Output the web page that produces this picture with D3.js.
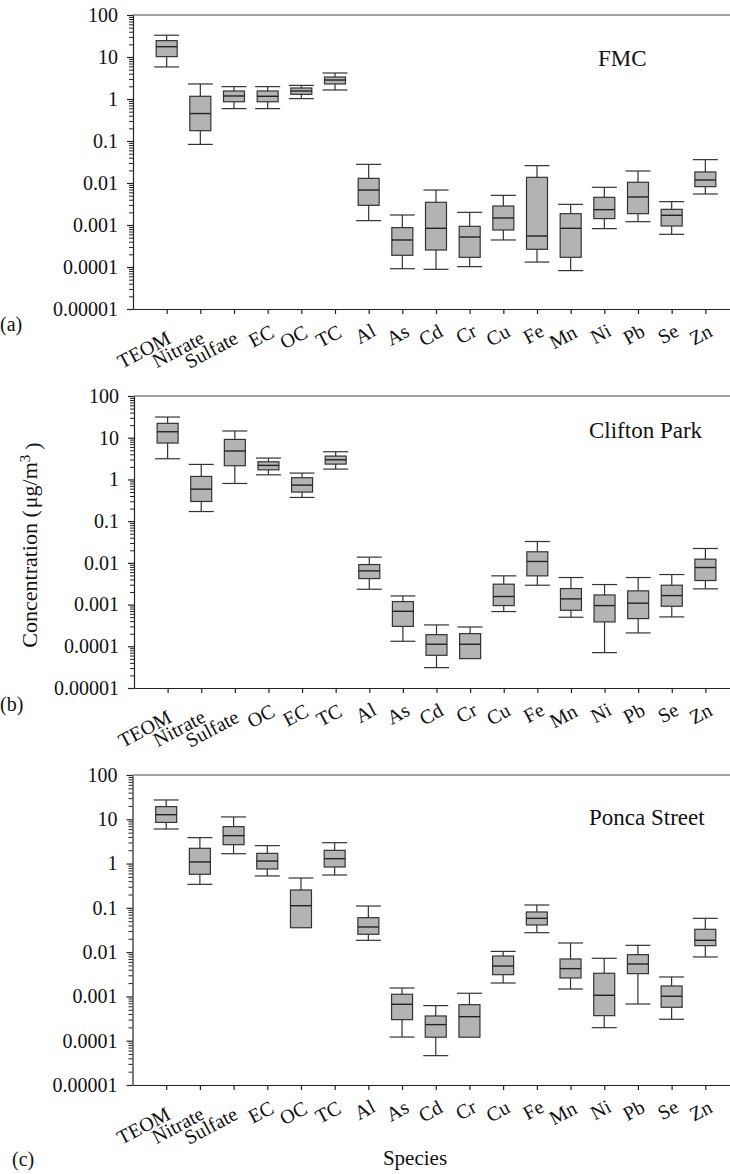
<!DOCTYPE html>
<html>
<head>
<meta charset="utf-8">
<script src="https://cdn.jsdelivr.net/npm/d3@7"></script>
<style>
    html, body { margin: 0; padding: 0; background: #fff; }
    svg { display: block; }
    text { font-family: "Liberation Serif", "Times New Roman", serif; fill: #111; }
</style>
</head>
<body>
<svg id="chart" width="730" height="1174"></svg>
<script>
"use strict";

// species order on the x axis (Clifton Park swaps OC and EC)
const speciesFMC = ["TEOM", "Nitrate", "Sulfate", "EC", "OC", "TC", "Al", "As", "Cd", "Cr", "Cu", "Fe", "Mn", "Ni", "Pb", "Se", "Zn"];
const speciesClifton = ["TEOM", "Nitrate", "Sulfate", "OC", "EC", "TC", "Al", "As", "Cd", "Cr", "Cu", "Fe", "Mn", "Ni", "Pb", "Se", "Zn"];
const speciesPonca = speciesFMC;

// [lower whisker, q1, median, q3, upper whisker] in ug/m3, same order as species
const statsFMC = [
    [5.8, 10.2, 17.6, 24.5, 33],
    [0.083, 0.176, 0.45, 1.16, 2.28],
    [0.59, 0.86, 1.18, 1.55, 1.97],
    [0.59, 0.86, 1.16, 1.55, 1.97],
    [1.02, 1.29, 1.55, 1.83, 2.11],
    [1.64, 2.28, 2.83, 3.34, 4.16],
    [0.00127, 0.00294, 0.0068, 0.0129, 0.0278],
    [0.000091, 0.00019, 0.00044, 0.000865, 0.00173],
    [0.000088, 0.000254, 0.000834, 0.00347, 0.0068],
    [0.000102, 0.00017, 0.000518, 0.00093, 0.002],
    [0.00044, 0.00076, 0.00147, 0.00283, 0.00508],
    [0.000131, 0.000264, 0.000547, 0.01365, 0.0259],
    [0.000082, 0.00017, 0.000834, 0.00186, 0.0031],
    [0.00082, 0.00142, 0.00232, 0.00456, 0.00789],
    [0.0012, 0.00186, 0.00465, 0.0104, 0.0193],
    [0.0006, 0.000946, 0.0017, 0.00236, 0.0036],
    [0.00547, 0.00818, 0.0118, 0.0183, 0.036]
];
const statsClifton = [
    [3.13, 7.45, 13.9, 22.1, 31.3],
    [0.17, 0.296, 0.586, 1.18, 2.29],
    [0.8, 2.13, 4.8, 9.1, 14.5],
    [1.29, 1.7, 2.17, 2.65, 3.25],
    [0.37, 0.497, 0.73, 1.1, 1.42],
    [1.77, 2.33, 2.96, 3.63, 4.61],
    [0.00233, 0.0042, 0.00643, 0.0091, 0.0137],
    [0.000132, 0.0003, 0.00069, 0.00118, 0.00161],
    [0.0000308, 0.0000608, 0.000112, 0.00019, 0.000325],
    [0.0000506, 0.0000506, 0.000112, 0.000201, 0.00029],
    [0.00068, 0.000946, 0.00156, 0.00308, 0.00488],
    [0.00291, 0.00488, 0.0108, 0.0184, 0.0325],
    [0.000497, 0.00073, 0.00137, 0.00242, 0.00445],
    [0.0000705, 0.000384, 0.000946, 0.0017, 0.00302],
    [0.000209, 0.000461, 0.00108, 0.00213, 0.00445],
    [0.000506, 0.000912, 0.00164, 0.00291, 0.00525],
    [0.00238, 0.00377, 0.00773, 0.01225, 0.0221]
];
const statsPonca = [
    [6.04, 8.5, 12.7, 19.3, 27.3],
    [0.34, 0.573, 1.09, 2.21, 3.85],
    [1.67, 2.67, 4.27, 6.82, 11.3],
    [0.525, 0.755, 1.14, 1.7, 2.54],
    [0.0356, 0.0356, 0.112, 0.253, 0.472],
    [0.552, 0.837, 1.29, 1.99, 2.96],
    [0.0185, 0.0253, 0.037, 0.06, 0.11],
    [0.000121, 0.000299, 0.000664, 0.00112, 0.00155],
    [0.000046, 0.00012, 0.000231, 0.000362, 0.00062],
    [0.00012, 0.00012, 0.000349, 0.000652, 0.00118],
    [0.00201, 0.0031, 0.00486, 0.00818, 0.0104],
    [0.0275, 0.041, 0.058, 0.0807, 0.116],
    [0.00147, 0.00261, 0.00424, 0.00701, 0.0161],
    [0.000197, 0.000368, 0.00106, 0.00333, 0.00726],
    [0.000675, 0.00327, 0.0054, 0.00877, 0.01426],
    [0.000305, 0.000569, 0.00101, 0.00172, 0.00275],
    [0.00778, 0.014, 0.0185, 0.0328, 0.058]
];

const yTickValues = [100, 10, 1, 0.1, 0.01, 0.001, 0.0001, 0.00001];

const RIGHT = 739;
const BOX_W = 21;
const CAP_W = 25;
const STROKE = "#333";

const panels = [
    { title: "FMC", tag: "(a)", species: speciesFMC, stats: statsFMC,
        left: 133, top: 15, bottom: 309, titleX: 598, titleY: 66, tagX: 0, tagY: 331 },
    { title: "Clifton Park", tag: "(b)", species: speciesClifton, stats: statsClifton,
        left: 134, top: 396, bottom: 688, titleX: 589, titleY: 438, tagX: 0, tagY: 711 },
    { title: "Ponca Street", tag: "(c)", species: speciesPonca, stats: statsPonca,
        left: 132.5, top: 775, bottom: 1085, titleX: 589, titleY: 825, tagX: 12, tagY: 1166 }
];

/**
 * Formats a decade tick as plain decimal text (0.00001 rather than 1e-5).
 */
const formatDecade = (d) => (d >= 1 ? String(d) : d.toFixed(Math.round(-Math.log10(d))));

/**
 * Draws one site panel: log y axis, species x axis and the box plots.
 */
const drawPanel = (svg, panel) => {
    const y = d3.scaleLog().domain([1e-5, 100]).range([panel.bottom, panel.top]);
    const x = d3.scalePoint().domain(panel.species).range([panel.left, RIGHT]).padding(1);
    const g = svg.append("g");

    // top frame line
    g.append("line")
        .attr("x1", panel.left).attr("x2", RIGHT)
        .attr("y1", panel.top).attr("y2", panel.top)
        .attr("stroke", "#444").attr("stroke-width", 1.2);

    // minor log ticks
    const minor = y.ticks().filter((d) => !yTickValues.includes(d));
    g.append("g")
        .attr("transform", `translate(${panel.left},0)`)
        .call(d3.axisLeft(y).tickValues(minor).tickSize(4).tickSizeOuter(0).tickFormat(""))
        .call((a) => a.select(".domain").remove())
        .selectAll("line").attr("stroke", "#222");

    const yAxis = g.append("g")
        .attr("transform", `translate(${panel.left},0)`)
        .call(d3.axisLeft(y).tickValues(yTickValues).tickSize(6).tickSizeOuter(0)
            .tickPadding(9).tickFormat(formatDecade));
    yAxis.selectAll("line, path").attr("stroke", "#222").attr("stroke-width", 1.2);
    yAxis.selectAll("text")
        .style("font-size", "20px")
        .style("font-family", "\"Liberation Serif\", \"Times New Roman\", serif")
        .attr("fill", "#111");

    const xAxis = g.append("g")
        .attr("transform", `translate(0,${panel.bottom})`)
        .call(d3.axisBottom(x).tickSize(5).tickSizeOuter(0).tickFormat(""));
    xAxis.selectAll("line, path").attr("stroke", "#222").attr("stroke-width", 1.2);

    // slanted species labels; longer names sit a little lower, as in the original
    g.selectAll("text.xlab")
        .data(panel.species)
        .join("text")
        .attr("class", "xlab")
        .attr("text-anchor", "end")
        .style("font-size", "20px")
        .text((d) => d)
        .each(function(d) {
            const len = this.getComputedTextLength();
            d3.select(this).attr("transform",
                `translate(${x(d) + 10 - 0.08 * len},${panel.bottom + 22 + 0.2 * len}) rotate(-28)`);
        });

    // boxes
    const boxes = g.selectAll("g.box")
        .data(panel.species.map((name, i) => ({ name, s: panel.stats[i] })))
        .join("g")
        .attr("class", "box")
        .attr("transform", (d) => `translate(${x(d.name)},0)`);

    boxes.each(function(d) {
        const b = d3.select(this);
        const [lo, q1, med, q3, hi] = d.s;
        if (hi > q3) {
            b.append("line").attr("x1", 0).attr("x2", 0).attr("y1", y(hi)).attr("y2", y(q3))
                .attr("stroke", STROKE).attr("stroke-width", 1.2);
            b.append("line").attr("x1", -CAP_W / 2).attr("x2", CAP_W / 2).attr("y1", y(hi)).attr("y2", y(hi))
                .attr("stroke", STROKE).attr("stroke-width", 1.2);
        }
        if (lo < q1) {
            b.append("line").attr("x1", 0).attr("x2", 0).attr("y1", y(q1)).attr("y2", y(lo))
                .attr("stroke", STROKE).attr("stroke-width", 1.2);
            b.append("line").attr("x1", -CAP_W / 2).attr("x2", CAP_W / 2).attr("y1", y(lo)).attr("y2", y(lo))
                .attr("stroke", STROKE).attr("stroke-width", 1.2);
        }
        b.append("rect")
            .attr("x", -BOX_W / 2).attr("width", BOX_W)
            .attr("y", y(q3)).attr("height", y(q1) - y(q3))
            .attr("fill", "#b3b3b3").attr("stroke", STROKE).attr("stroke-width", 1.2);
        b.append("line").attr("x1", -BOX_W / 2).attr("x2", BOX_W / 2).attr("y1", y(med)).attr("y2", y(med))
            .attr("stroke", "#222").attr("stroke-width", 1.4);
    });

    g.append("text")
        .attr("x", panel.titleX).attr("y", panel.titleY)
        .style("font-size", "23px")
        .text(panel.title);

    g.append("text")
        .attr("x", panel.tagX).attr("y", panel.tagY)
        .style("font-size", "20px")
        .text(panel.tag);
};

const svg = d3.select("#chart");
panels.forEach((p) => drawPanel(svg, p));

const yLabel = svg.append("text")
    .attr("text-anchor", "middle")
    .attr("transform", "translate(37,545) rotate(-90)")
    .style("font-size", "22px");
yLabel.append("tspan").text("Concentration (");
yLabel.append("tspan").attr("dx", "2").text("μg/m");
yLabel.append("tspan").attr("dy", "-0.45em").style("font-size", "15px").text("3");
yLabel.append("tspan").attr("dy", "0.45em").attr("dx", "5").text(")");

svg.append("text")
    .attr("x", 415).attr("y", 1165)
    .attr("text-anchor", "middle")
    .style("font-size", "21px")
    .text("Species");
</script>
</body>
</html>
